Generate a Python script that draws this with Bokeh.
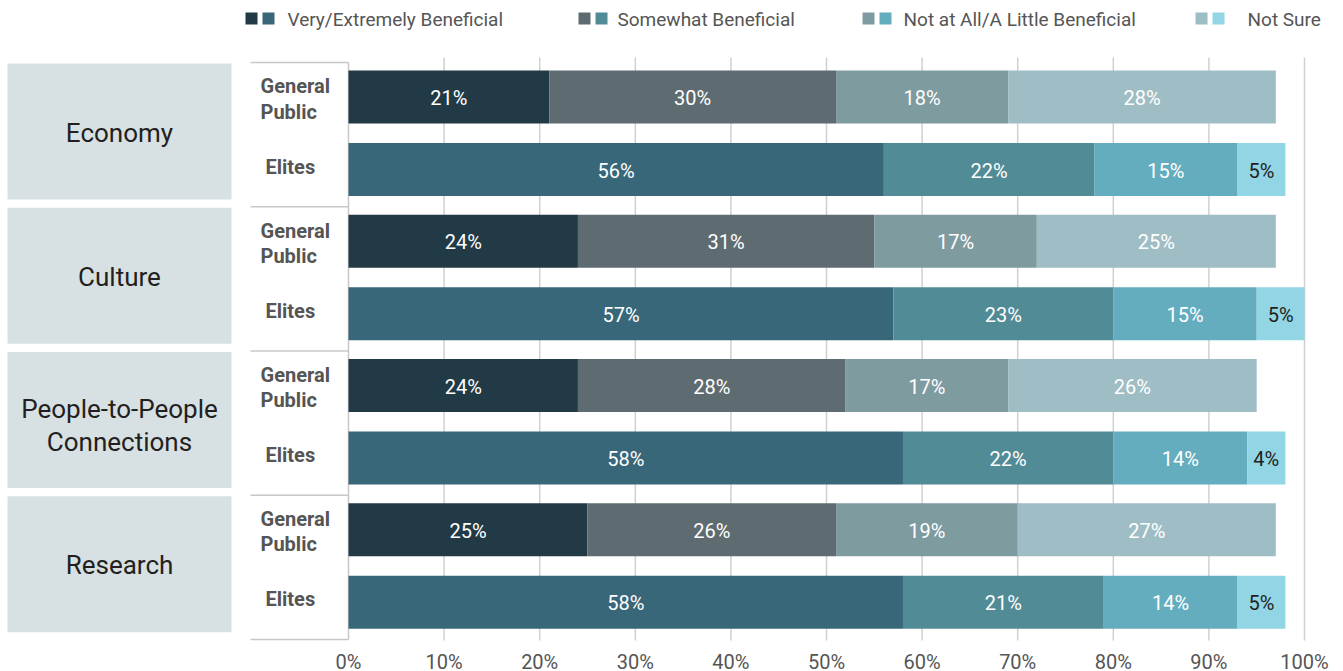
from bokeh.plotting import figure
from bokeh.models import Range1d, FixedTicker, CustomJSTickFormatter, ColumnDataSource
from bokeh.core.properties import value
from bokeh.embed import file_html
from bokeh.resources import INLINE

# ---- data -------------------------------------------------------------
topics = ["Economy", "Culture", "People-to-People\nConnections", "Research"]
groups = ["General\nPublic", "Elites"]
series = ["Very/Extremely Beneficial", "Somewhat Beneficial",
          "Not at All/A Little Beneficial", "Not Sure"]

public_very = [21, 24, 24, 25]
public_somewhat = [30, 31, 28, 26]
public_little = [18, 17, 17, 19]
public_unsure = [28, 25, 26, 27]

elite_very = [56, 57, 58, 58]
elite_somewhat = [22, 23, 22, 21]
elite_little = [15, 15, 14, 14]
elite_unsure = [5, 5, 4, 5]

x_ticks = [0, 10, 20, 30, 40, 50, 60, 70, 80, 90, 100]

# ---- styling ----------------------------------------------------------
FONT = "Roboto"
public_colors = ["#213a45", "#5e6c71", "#7e9ba0", "#9fbdc4"]
elite_colors = ["#38677a", "#518b96", "#64adbf", "#92d5e5"]
BOX = "#d7e1e3"
GRID = "#d0d0d0"
GREY_TXT = "#555555"
DARK_TXT = "#231f20"

W, H = 1343, 641          # frame size in px
PX_PER_PCT = 9.56
X0 = 348                  # px position of 0 %


def px(xp):
    """screen x (px) -> data x (percent units)"""
    return (xp - X0) / PX_PER_PCT


SEP0, SEP_STEP = 62, 144.25      # group separators (y, px from top)
BAR_H = 53

p = figure(frame_width=W, frame_height=H, output_backend="svg",
           toolbar_location=None, x_range=Range1d(px(0), px(W)),
           y_range=Range1d(H, 0), y_axis_location=None,
           min_border_left=0, min_border_right=0, min_border_top=0,
           min_border_bottom=0, outline_line_color=None)
p.grid.visible = False

# vertical grid lines behind the bars
p.segment(x0=x_ticks[1:], x1=x_ticks[1:], y0=[57] * 10, y1=[640] * 10,
          line_color=GRID, line_width=1.5)

bar_rows = []
for g in range(len(topics)):
    sep = SEP0 + g * SEP_STEP
    pub_y = sep + 34.5
    eli_y = sep + 107
    bar_rows.append((pub_y, [public_very[g], public_somewhat[g],
                             public_little[g], public_unsure[g]], public_colors, False))
    bar_rows.append((eli_y, [elite_very[g], elite_somewhat[g],
                             elite_little[g], elite_unsure[g]], elite_colors, True))

    # topic box
    p.quad(left=px(7), right=px(231), top=sep + 1, bottom=sep + 137,
           fill_color=BOX, line_color=None)
    ty = sep + (74 if "\n" in topics[g] else 70)
    p.text(x=[px(119)], y=[ty], text=[topics[g]], text_align="center",
           text_baseline="middle", text_font=value(FONT), text_font_size="26px",
           text_color=DARK_TXT, text_line_height=1.1, text_font_style="normal")
    # group labels
    p.text(x=[px(260)], y=[pub_y + 2], text=[groups[0]], text_align="left",
           text_baseline="middle", text_font=value(FONT), text_font_size="20px",
           text_color=GREY_TXT, text_line_height=1.05, text_font_style="bold")
    p.text(x=[px(265)], y=[eli_y - 3], text=[groups[1]], text_align="left",
           text_baseline="middle", text_font=value(FONT), text_font_size="20px",
           text_color=GREY_TXT, text_font_style="bold")

# separator lines in the group-label column
seps = [SEP0 + g * SEP_STEP for g in range(len(topics) + 1)]
p.segment(x0=[px(250)] * len(seps), x1=[0] * len(seps), y0=seps, y1=seps,
          line_color="#c8c8c8", line_width=1.5)
p.segment(x0=[0], x1=[0], y0=[SEP0], y1=[seps[-1]], line_color="#c8c8c8",
          line_width=1.5)

# stacked bars with value labels
for y, vals, cols, elite in bar_rows:
    lefts, rights = [], []
    acc = 0
    for v in vals:
        lefts.append(acc)
        acc += v
        rights.append(acc)
    src = ColumnDataSource(dict(
        left=lefts, right=rights, top=[y - BAR_H / 2] * 4,
        bottom=[y + BAR_H / 2] * 4, color=cols,
        mid=[(l + r) / 2 for l, r in zip(lefts, rights)],
        y=[y + 1] * 4, label=[f"{v}%" for v in vals],
        tcolor=["white", "white", "white", DARK_TXT if elite else "white"]))
    p.quad(left="left", right="right", top="top", bottom="bottom",
           fill_color="color", line_color=None, source=src)
    p.text(x="mid", y="y", text="label", text_color="tcolor",
           text_align="center", text_baseline="middle", text_font=value(FONT),
           text_font_size="20px", source=src)

# legend
legend_pos = [245, 578, 862, 1195]
legend_txt = [287, 617, 903, 1247]
for i, name in enumerate(series):
    lx = legend_pos[i]
    p.quad(left=[px(lx), px(lx + 17)], right=[px(lx + 12), px(lx + 29)],
           top=[12, 12], bottom=[24, 24],
           fill_color=[public_colors[i], elite_colors[i]], line_color=None)
    p.text(x=[px(legend_txt[i])], y=[19], text=[name], text_align="left",
           text_baseline="middle", text_font=value(FONT), text_font_size="19px",
           text_color=GREY_TXT)

# x axis (percent ticks)
ax = p.xaxis[0]
ax.ticker = FixedTicker(ticks=x_ticks)
ax.formatter = CustomJSTickFormatter(code="return tick + '%';")
ax.axis_line_color = None
ax.major_tick_line_color = None
ax.minor_tick_line_color = None
ax.major_tick_out = 0
ax.minor_tick_out = 0
ax.major_label_standoff = 8
ax.major_label_text_font = FONT
ax.major_label_text_font_size = "20px"
ax.major_label_text_color = GREY_TXT

open("out.html", "w").write(file_html(p, INLINE))
